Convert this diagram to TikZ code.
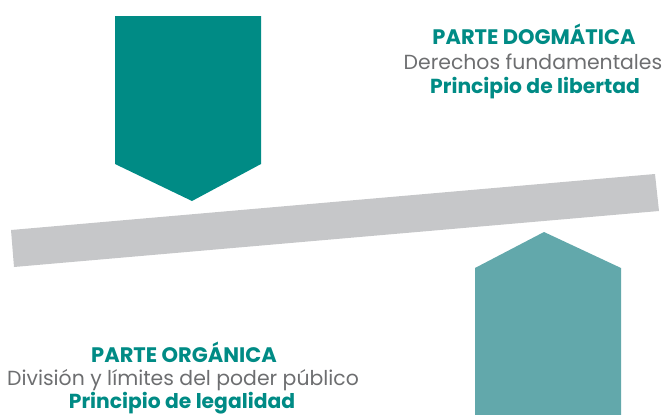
\documentclass[tikz,border=0pt]{standalone}
\usepackage{fontspec}
\setmainfont{Poppins}
\definecolor{tealdark}{HTML}{008B85}
\definecolor{teallight}{HTML}{62A8AB}
\definecolor{bargray}{HTML}{C6C7C9}
\definecolor{txtgray}{HTML}{6D6E70}
\begin{document}
\begin{tikzpicture}[x=1pt,y=-1pt,
  head/.style={anchor=base,text=tealdark,font=\fontsize{21}{24}\selectfont\bfseries,inner sep=0pt},
  princ/.style={anchor=base,text=tealdark,font=\fontsize{20.3}{24}\selectfont\bfseries,inner sep=0pt},
  sub/.style={anchor=base,text=txtgray,font=\fontsize{20.4}{24}\selectfont,inner sep=0pt}]
\useasboundingbox (0,0) rectangle (662,415);
% top arrow
\fill[tealdark] (115,16) -- (261,16) -- (261,164) -- (192,201) -- (115,164) -- cycle;
% bar
\fill[bargray] (11,230) -- (655,174) -- (659,211) -- (14,267) -- cycle;
% bottom arrow
\fill[teallight] (475,415) -- (475,268) -- (544,232) -- (621,268) -- (621,415) -- cycle;
% texts
\node[head] (t1) at (534,45) {PARTE DOGMÁTICA};
\node[sub] (t2) at (533,69) {Derechos fundamentales};
\node[princ] (t3) at (535,93) {Principio de libertad};
\node[head] (b1) at (184,362) {PARTE ORGÁNICA};
\node[sub] (b2) at (183,385) {División y límites del poder público};
\node[princ] (b3) at (182,408) {Principio de legalidad};
\end{tikzpicture}
\end{document}
